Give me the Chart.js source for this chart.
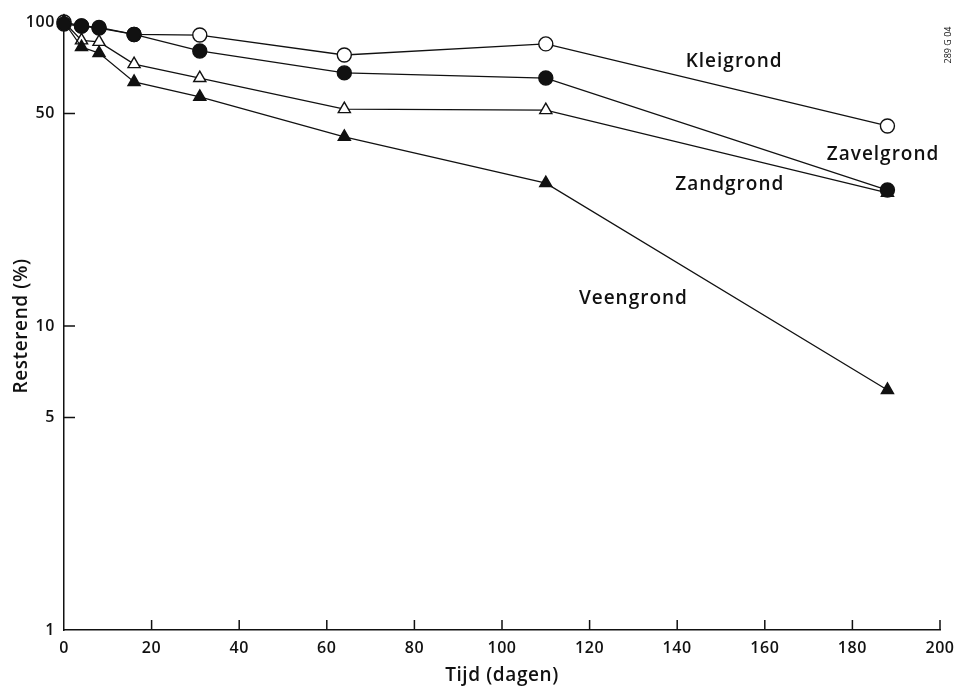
<!DOCTYPE html>
<html>
<head>
<meta charset="utf-8">
<script src="https://cdn.jsdelivr.net/npm/chart.js@4/dist/chart.umd.min.js"></script>
<style>
    html, body { margin: 0; padding: 0; background: #fff; }
    #wrap { width: 958px; height: 688px; position: relative; }
</style>
</head>
<body>
<div id="wrap"><canvas id="chart"></canvas></div>
<script>
// Days after application
const days = [0, 4, 8, 16, 31, 64, 110, 188];

// Remaining (%) per soil type
const kleigrond = [100, 97, 96, 91, 90.6, 77.9, 84.7, 45.5];
const zavelgrond = [98.5, 97, 95.5, 91, 80.3, 68, 65.4, 28];
const zandgrond = [100, 87, 86, 72.7, 65.4, 51.7, 51.3, 27.4];
const veengrond = [100, 82.7, 79, 63.5, 56.7, 41.9, 29.5, 6.16];

const yTicks = [1, 5, 10, 50, 100];
const xTicks = [0, 20, 40, 60, 80, 100, 120, 140, 160, 180, 200];

// Text labels next to the lines, in data coordinates
const seriesLabels = [
    { text: 'Kleigrond', x: 153, y: 74 },
    { text: 'Zavelgrond', x: 187, y: 36.5 },
    { text: 'Zandgrond', x: 152, y: 29.2 },
    { text: 'Veengrond', x: 130, y: 12.3 }
];

const fontFamily = '"Open Sans", "Noto Sans", sans-serif';
const ink = '#111';

function toPoints(values) {
    return days.map((d, i) => ({ x: d, y: values[i] }));
}

function series(label, values, style, filled) {
    return {
        label: label,
        data: toPoints(values),
        borderColor: ink,
        borderWidth: 1.3,
        pointStyle: style,
        pointRadius: 7,
        pointBorderWidth: 1.4,
        pointBorderColor: ink,
        pointBackgroundColor: filled ? ink : '#fff',
        tension: 0,
        clip: false
    };
}

// Slightly spaced lettering, like the printed original
const spacing = {
    id: 'spacing',
    beforeUpdate(chart) { chart.ctx.letterSpacing = '0.6px'; },
    beforeDraw(chart) { chart.ctx.letterSpacing = '0.6px'; }
};

// Inward tick marks and annotation texts
const decorations = {
    id: 'decorations',
    afterDraw(chart) {
        const ctx = chart.ctx;
        const xs = chart.scales.x;
        const ys = chart.scales.y;
        ctx.save();
        ctx.strokeStyle = ink;
        ctx.lineWidth = 1.5;
        ctx.beginPath();
        xTicks.slice(1).forEach(v => {
            const px = xs.getPixelForValue(v);
            ctx.moveTo(px, ys.bottom);
            ctx.lineTo(px, ys.bottom - 10);
        });
        [5, 10, 50].forEach(v => {
            const py = ys.getPixelForValue(v);
            ctx.moveTo(xs.left, py);
            ctx.lineTo(xs.left + 11, py);
        });
        ctx.stroke();

        ctx.fillStyle = ink;
        ctx.letterSpacing = '1px';
        ctx.font = '600 19px ' + fontFamily;
        ctx.textAlign = 'center';
        ctx.textBaseline = 'middle';
        seriesLabels.forEach(l => {
            ctx.fillText(l.text, xs.getPixelForValue(l.x), ys.getPixelForValue(l.y));
        });

        ctx.letterSpacing = '0px';
        ctx.translate(948, 45);
        ctx.rotate(-Math.PI / 2);
        ctx.font = '9px ' + fontFamily;
        ctx.fillText('289 G 04', 0, 0);
        ctx.restore();
    }
};

document.addEventListener('DOMContentLoaded', function() {
    const ctx = document.getElementById('chart').getContext('2d');
    window.decayChart = new Chart(ctx, {
        type: 'line',
        data: {
            datasets: [
                series('Zavelgrond', zavelgrond, 'circle', true),
                series('Veengrond', veengrond, 'triangle', true),
                series('Zandgrond', zandgrond, 'triangle', false),
                series('Kleigrond', kleigrond, 'circle', false)
            ]
        },
        options: {
            responsive: true,
            maintainAspectRatio: false,
            animation: false,
            layout: {
                padding: { top: 22, right: 18, left: 0, bottom: 0 }
            },
            plugins: {
                legend: { display: false },
                tooltip: { enabled: false }
            },
            scales: {
                x: {
                    type: 'linear',
                    min: 0,
                    max: 200,
                    afterFit: function(scale) {
                        scale.height = 58;
                        scale.paddingLeft = 0;
                        scale.paddingRight = 0;
                    },
                    afterBuildTicks: function(scale) {
                        scale.ticks = xTicks.map(v => ({ value: v }));
                    },
                    grid: { display: false, drawTicks: false },
                    border: { display: true, color: ink, width: 1.5 },
                    ticks: {
                        color: ink,
                        padding: 9,
                        maxRotation: 0,
                        font: { family: fontFamily, size: 16, weight: '600' }
                    },
                    title: {
                        display: true,
                        text: 'Tijd (dagen)',
                        color: ink,
                        padding: { top: 0, bottom: 1 },
                        font: { family: fontFamily, size: 19, weight: '600' }
                    }
                },
                y: {
                    type: 'logarithmic',
                    min: 1,
                    max: 100,
                    afterFit: function(scale) { scale.width = 64; },
                    afterBuildTicks: function(scale) {
                        scale.ticks = yTicks.map(v => ({ value: v }));
                    },
                    grid: { display: false, drawTicks: false },
                    border: { display: true, color: ink, width: 1.5 },
                    ticks: {
                        color: ink,
                        padding: 9,
                        callback: function(value) { return String(value); },
                        font: { family: fontFamily, size: 16, weight: '600' }
                    },
                    title: {
                        display: true,
                        text: 'Resterend (%)',
                        color: ink,
                        padding: { top: 10, bottom: 0 },
                        font: { family: fontFamily, size: 19, weight: '600' }
                    }
                }
            }
        },
        plugins: [spacing, decorations]
    });
});
</script>
</body>
</html>
